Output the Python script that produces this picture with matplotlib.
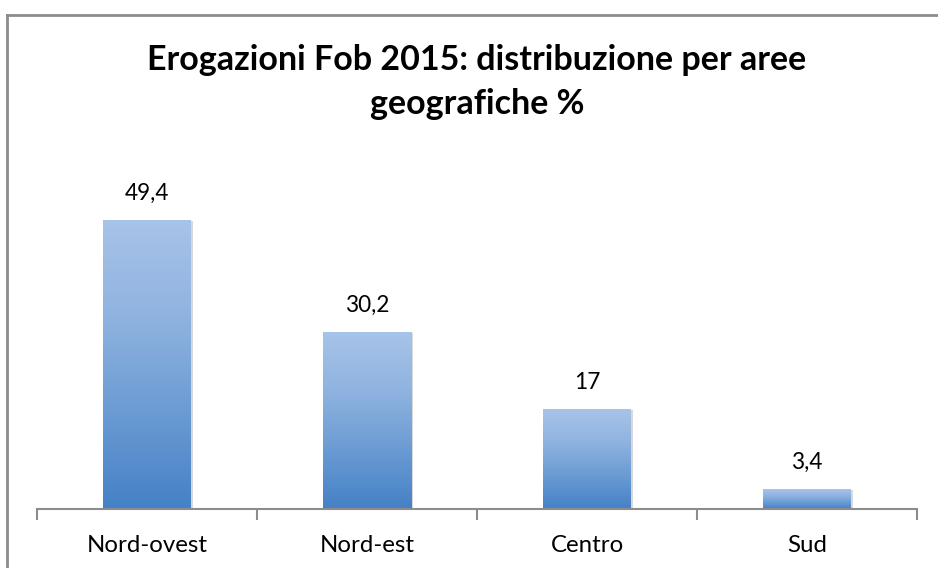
import numpy as np
import matplotlib
matplotlib.use("Agg")
import matplotlib.pyplot as plt
from matplotlib.lines import Line2D
from matplotlib.colors import LinearSegmentedColormap

regions = ["Nord-ovest", "Nord-est", "Centro", "Sud"]
values = [49.4, 30.2, 17, 3.4]
value_labels = ["49,4", "30,2", "17", "3,4"]

W, H = 938, 568
fig = plt.figure(figsize=(W / 100, H / 100), dpi=100)
plt.rcParams['font.family'] = ['Lato', 'DejaVu Sans']

# frame of the chart area (cut off at right and bottom)
fig.add_artist(Line2D([7 / W, 7 / W], [0, 1 - 15 / H], transform=fig.transFigure,
                      color="#8c8c8c", lw=2))
fig.add_artist(Line2D([7 / W, 1], [1 - 15 / H, 1 - 15 / H], transform=fig.transFigure,
                      color="#8c8c8c", lw=2))

ax = fig.add_axes([37 / W, 1 - 509 / H, 880 / W, (509 - 160) / H])
ymax = (509 - 160) / 5.85

cmap = LinearSegmentedColormap.from_list("bar", ["#4581c7", "#6a9bd3", "#8fb3e0", "#a8c3e8"])
grad = np.linspace(0, 1, 256).reshape(-1, 1)
bw = 0.4
for i, v in enumerate(values):
    x0 = i + 0.5 - bw / 2
    # soft shadow
    ax.bar(i + 0.5 + 0.01, v, width=bw, bottom=-0.15, color="#d8d8d8", zorder=1)
    ax.imshow(grad, cmap=cmap, aspect="auto", origin="lower",
              extent=[x0, x0 + bw, 0, v], zorder=2)
    ax.text(i + 0.5, v + 2.8, value_labels[i], ha="center", va="bottom", fontsize=16.3)

ax.set_xlim(0, 4)
ax.set_ylim(0, ymax)
for s in ["top", "right", "left"]:
    ax.spines[s].set_visible(False)
ax.spines["bottom"].set_color("#8c8c8c")
ax.spines["bottom"].set_linewidth(1.5)
ax.set_yticks([])
ax.set_xticks([0, 1, 2, 3, 4])
ax.set_xticklabels([])
ax.tick_params(axis="x", length=8, width=1.5, color="#8c8c8c")
ax.set_xticks([0.5, 1.5, 2.5, 3.5], minor=True)
ax.set_xticklabels(regions, minor=True, fontsize=17.3)
ax.tick_params(axis="x", which="minor", length=0, pad=19)

fig.text(477 / W, 1 - 60 / H, "Erogazioni Fob 2015: distribuzione per aree",
         ha="center", va="center", fontsize=24.5, fontweight="bold")
fig.text(477 / W, 1 - 104 / H, "geografiche %",
         ha="center", va="center", fontsize=24.5, fontweight="bold")

fig.savefig("out.png", dpi=100, facecolor="white")
